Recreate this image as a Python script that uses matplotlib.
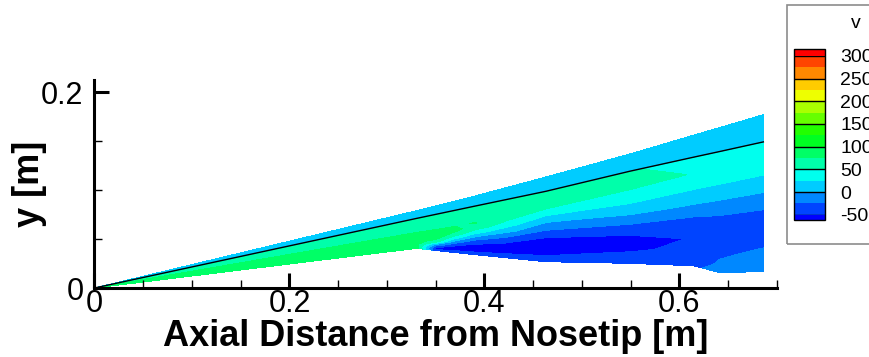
import numpy as np
import matplotlib
matplotlib.use('Agg')
import matplotlib.pyplot as plt
from matplotlib import colors
from matplotlib.patches import Rectangle
from matplotlib.ticker import MultipleLocator

plt.rcParams['font.family'] = ['Liberation Sans', 'DejaVu Sans']

# axial stations of the solution block [m]
x_st = [0.0, 0.33, 0.35, 0.37, 0.39, 0.463, 0.549, 0.615, 0.64, 0.686]
# body surface, shock and outer edge of the domain at each station [m]
y_wall = [0.0, 0.0405, 0.0384, 0.0362, 0.0341, 0.0269, 0.0252, 0.0227, 0.016, 0.0166]
y_shock = [0.0, 0.0711, 0.0753, 0.0795, 0.0837, 0.0989, 0.1194, 0.1339, 0.1393, 0.1494]
y_edge = [0.0, 0.079, 0.084, 0.089, 0.094, 0.1135, 0.137, 0.1564, 0.1637, 0.1772]

# wall-normal fraction between body (0) and shock (1)
eta = [0.0, 0.06, 0.15, 0.25, 0.35, 0.45, 0.55, 0.65, 0.75, 0.85, 1.0]

# v [m/s] in the shock layer, one row per station, one column per eta
v_layer = [
    [93, 91, 88, 84, 80, 76, 72, 68, 64, 60, 54],
    [92, 90, 88, 85, 82, 79, 74, 69, 64, 60, 54],
    [-45, -58, -11, 64, 85, 88, 77, 70, 65, 60, 54],
    [-44, -52, -54, -15, 34, 70, 82, 72, 67, 61, 55],
    [-42, -51, -62, -43, -7, 32, 62, 76, 69, 63, 56],
    [-40, -46, -60, -60, -49, -24, -2, 24, 50, 62, 60],
    [-35, -42, -53, -56, -45, -18, 5, 25, 42, 58, 52],
    [-30, -38, -45, -49, -43, -25, -3, 16, 33, 49, 40],
    [-15, -22, -28, -34, -35, -29, -9, 10, 29, 38, 36],
    [-12, -16, -22, -31, -36, -30, -12, 8, 26, 38, 40],
]
# v [m/s] ahead of the shock (at shock, at outer edge)
v_free_in = [14, 14, 14, 14, 14, 14, 14, 14, 14, 14]
v_free_out = [8, 8, 8, 8, 8, 8, 8, 8, 8, 8]

levels = [-50, -25, 0, 25, 50, 75, 100, 125, 150, 175, 200, 225, 250, 275, 300]
band_colors = ['#0000ff', '#0044ff', '#0088ff', '#00ccff', '#00ffee', '#00ffaa',
               '#00ff66', '#00ff22', '#22ff00', '#66ff00', '#aaff00', '#eeff00',
               '#ffcc00', '#ff8800', '#ff4400', '#ff0000']
cb_ticks = [-50, 0, 50, 100, 150, 200, 250, 300]
cb_labels = ['-50', '0', '50', '100', '150', '200', '250', '300']
x_ticks = [0.0, 0.2, 0.4, 0.6]
x_ticklabels = ['0', '0.2', '0.4', '0.6']
y_ticks = [0.0, 0.2]
y_ticklabels = ['0', '0.2']

xs = np.array(x_st)
et = np.array(eta)
wall, shock, edge = np.array(y_wall), np.array(y_shock), np.array(y_edge)

# structured mesh for the shock layer and for the strip outside it
X = np.repeat(xs[:, None], len(et), axis=1)
Y = wall[:, None] + et[None, :] * (shock - wall)[:, None]
V = np.array(v_layer, dtype=float)

Xo = np.repeat(xs[:, None], 2, axis=1)
Yo = np.stack([shock, edge], axis=1)
Vo = np.stack([v_free_in, v_free_out], axis=1).astype(float)

cmap = colors.ListedColormap(band_colors[1:-1])
cmap.set_under(band_colors[0])
cmap.set_over(band_colors[-1])

fig = plt.figure(figsize=(8.7, 3.57), dpi=100)
ax = fig.add_axes([94.5 / 870, 69 / 357, 682.5 / 870, 208 / 357])

cf = ax.contourf(X, Y, V, levels=levels, cmap=cmap, extend='both',
                 antialiased=False)
ax.contourf(Xo, Yo, Vo, levels=levels, cmap=cmap, extend='both',
            antialiased=False)
ax.plot(xs, shock, color='k', lw=1.0)

ax.set_xlim(0, 0.7)
ax.set_ylim(0, 0.2127)
for side in ('top', 'right'):
    ax.spines[side].set_visible(False)
for side in ('left', 'bottom'):
    ax.spines[side].set_linewidth(2.2)

ax.set_xticks(x_ticks)
ax.set_xticklabels(x_ticklabels)
ax.set_yticks(y_ticks)
ax.set_yticklabels(y_ticklabels)
ax.xaxis.set_minor_locator(MultipleLocator(0.05))
ax.yaxis.set_minor_locator(MultipleLocator(0.05))
ax.tick_params(which='major', direction='in', length=10.8, width=2.2,
               labelsize=22)
ax.tick_params(axis='x', which='major', pad=1)
ax.tick_params(axis='y', which='major', pad=8)
ax.tick_params(which='minor', direction='in', length=5.8, width=1.0)

ax.set_xlabel('Axial Distance from Nosetip [m]', fontsize=26,
              fontweight='bold')
ax.xaxis.set_label_coords(0.5, -0.148)
ax.set_ylabel('y [m]', fontsize=26, fontweight='bold')
ax.yaxis.set_label_coords(-0.07, 0.5)

# contour legend
fig.add_artist(Rectangle((787 / 870, 113 / 357), 0.2, 239 / 357,
                         transform=fig.transFigure, fill=False,
                         edgecolor='#8c8c8c', lw=1.2))
cax = fig.add_axes([794 / 870, 137 / 357, 31 / 870, 170.7 / 357])
cbar = fig.colorbar(cf, cax=cax, extend='both', extendrect=True,
                    extendfrac=(0.033, 0.041), ticks=cb_ticks)
cbar.set_ticklabels(cb_labels)
cbar.ax.tick_params(length=0, labelsize=14, pad=11)
cbar.outline.set_linewidth(1.0)
for t in cb_ticks:
    cax.axhline(t, color='k', lw=1.0)
fig.text(856 / 870, 1 - 24 / 357, 'v', fontsize=14, ha='center', va='center')

fig.savefig('out.png', dpi=100)
